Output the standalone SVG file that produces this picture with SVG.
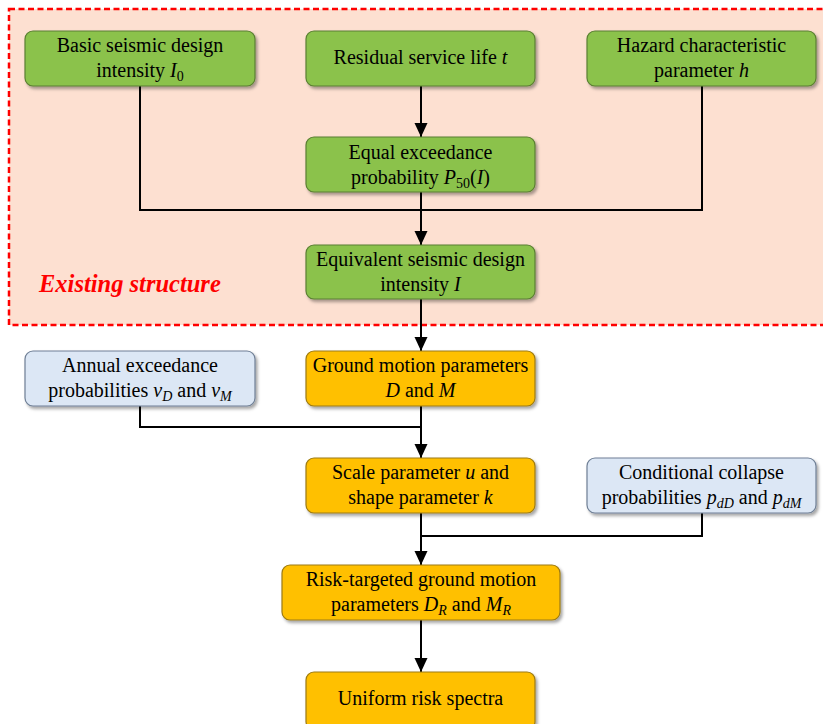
<svg xmlns="http://www.w3.org/2000/svg" width="823" height="724" viewBox="0 0 823 724">
<style>
.t{font-family:"Liberation Serif","Times New Roman",serif;font-size:20px;fill:#000;text-anchor:middle}
.i{font-style:italic}
.s{font-size:14px}
.g{fill:#8BC24C;stroke:#5A7F32;stroke-width:1.2}
.o{fill:#FFC000;stroke:#9C7A12;stroke-width:1.2}
.b{fill:#DCE7F5;stroke:#6F7F95;stroke-width:1.2}
.c{fill:none;stroke:#000;stroke-width:2}
</style>
<defs>
<filter id="sh" x="-10%" y="-10%" width="130%" height="140%">
<feDropShadow dx="2" dy="2.5" stdDeviation="1.5" flood-color="#000" flood-opacity="0.35"/>
</filter>
<marker id="ar" markerUnits="userSpaceOnUse" markerWidth="14" markerHeight="16" refX="14" refY="6.5" orient="auto">
<path d="M0,0 L14,6.5 L0,13 Z" fill="#000"/>
</marker>
</defs>
<rect width="823" height="724" fill="#fff"/>
<rect x="9" y="9" width="830" height="316" fill="#FDE0D1" stroke="#FF0000" stroke-width="2.5" stroke-dasharray="6,3.5"/>
<text x="39" y="292" style="font-family:'Liberation Serif',serif;font-size:24.5px;font-style:italic;font-weight:bold;fill:#FF0000">Existing structure</text>

<g id="connectors">
<path class="c" d="M140,86 V210 H421"/>
<path class="c" d="M702,86 V210 H421"/>
<path class="c" d="M421,86 V137" marker-end="url(#ar)"/>
<path class="c" d="M421,192 V245" marker-end="url(#ar)"/>
<path class="c" d="M421,299 V351" marker-end="url(#ar)"/>
<path class="c" d="M140,406 V427 H421"/>
<path class="c" d="M421,406 V458" marker-end="url(#ar)"/>
<path class="c" d="M702,513 V536 H421"/>
<path class="c" d="M421,513 V565" marker-end="url(#ar)"/>
<path class="c" d="M421,620 V672" marker-end="url(#ar)"/>
</g>

<g id="n1"><rect class="g" x="25" y="31" width="230" height="55" rx="8" filter="url(#sh)"/>
<text class="t" x="140" y="52">Basic seismic design</text>
<text class="t" x="140" y="77">intensity <tspan class="i">I</tspan><tspan class="s" dy="4">0</tspan></text></g>

<g id="n2"><rect class="g" x="306" y="31" width="229" height="55" rx="8" filter="url(#sh)"/>
<text class="t" x="420.5" y="64">Residual service life <tspan class="i">t</tspan></text></g>

<g id="n3"><rect class="g" x="587" y="31" width="229" height="55" rx="8" filter="url(#sh)"/>
<text class="t" x="701.5" y="52">Hazard characteristic</text>
<text class="t" x="701.5" y="77">parameter <tspan class="i">h</tspan></text></g>

<g id="n4"><rect class="g" x="306" y="137" width="229" height="55" rx="8" filter="url(#sh)"/>
<text class="t" x="420.5" y="159">Equal exceedance</text>
<text class="t" x="420.5" y="184">probability <tspan class="i">P</tspan><tspan class="s" dy="4">50</tspan><tspan dy="-4">(</tspan><tspan class="i">I</tspan>)</text></g>

<g id="n5"><rect class="g" x="306" y="245" width="229" height="54" rx="8" filter="url(#sh)"/>
<text class="t" x="420.5" y="266">Equivalent seismic design</text>
<text class="t" x="420.5" y="291">intensity <tspan class="i">I</tspan></text></g>

<g id="n6"><rect class="b" x="25" y="351" width="230" height="55" rx="8" filter="url(#sh)"/>
<text class="t" x="140" y="372">Annual exceedance</text>
<text class="t" x="140" y="397">probabilities <tspan class="i">v</tspan><tspan class="s i" dy="4">D</tspan><tspan dy="-4"> and </tspan><tspan class="i">v</tspan><tspan class="s i" dy="4">M</tspan></text></g>

<g id="n7"><rect class="o" x="306" y="351" width="229" height="55" rx="8" filter="url(#sh)"/>
<text class="t" x="420.5" y="372">Ground motion parameters</text>
<text class="t" x="420.5" y="397"><tspan class="i">D</tspan> and <tspan class="i">M</tspan></text></g>

<g id="n8"><rect class="o" x="306" y="458" width="229" height="55" rx="8" filter="url(#sh)"/>
<text class="t" x="420.5" y="479">Scale parameter <tspan class="i">u</tspan> and</text>
<text class="t" x="420.5" y="504">shape parameter <tspan class="i">k</tspan></text></g>

<g id="n9"><rect class="b" x="587" y="458" width="229" height="55" rx="8" filter="url(#sh)"/>
<text class="t" x="701.5" y="479">Conditional collapse</text>
<text class="t" x="701.5" y="504">probabilities <tspan class="i">p</tspan><tspan class="s i" dy="4">dD</tspan><tspan dy="-4"> and </tspan><tspan class="i">p</tspan><tspan class="s i" dy="4">dM</tspan></text></g>

<g id="n10"><rect class="o" x="282" y="565" width="278" height="55" rx="8" filter="url(#sh)"/>
<text class="t" x="421" y="586">Risk-targeted ground motion</text>
<text class="t" x="421" y="611">parameters <tspan class="i">D</tspan><tspan class="s i" dy="4">R</tspan><tspan dy="-4"> and </tspan><tspan class="i">M</tspan><tspan class="s i" dy="4">R</tspan></text></g>

<g id="n11"><rect class="o" x="306" y="672" width="229" height="58" rx="8" filter="url(#sh)"/>
<text class="t" x="420.5" y="705">Uniform risk spectra</text></g>
</svg>
